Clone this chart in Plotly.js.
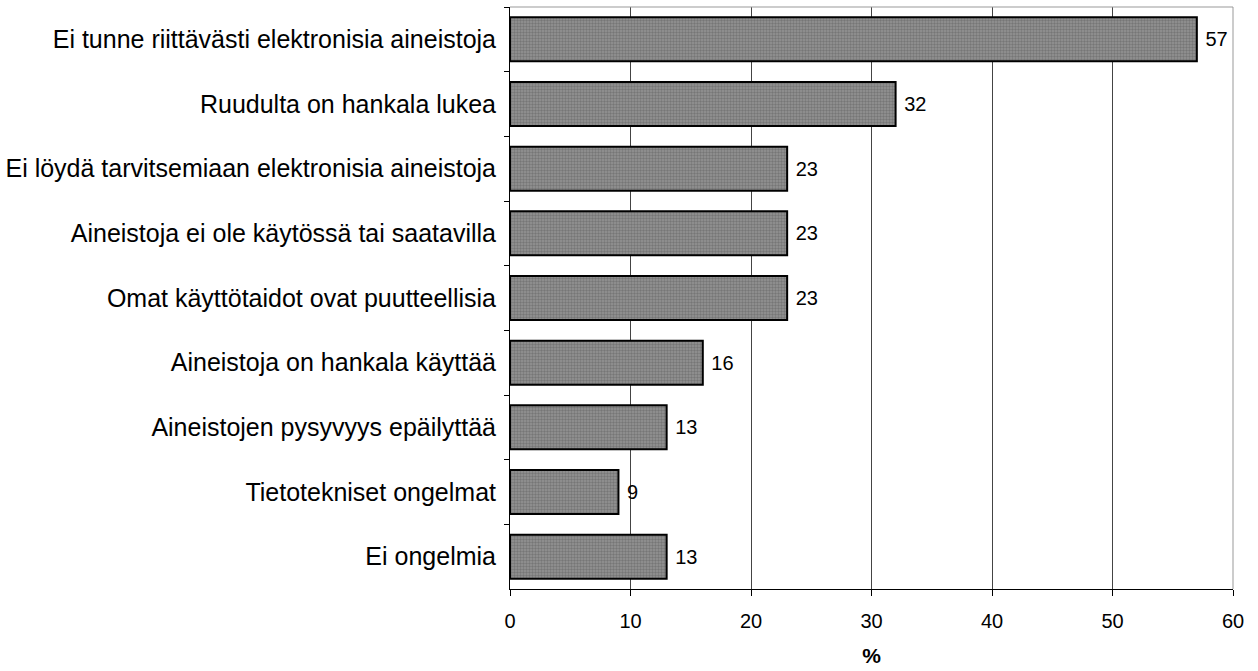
<!DOCTYPE html>
<html>
<head>
<meta charset="utf-8">
<script src="https://cdn.plot.ly/plotly-3.0.1.min.js"></script>
<style>html,body{margin:0;padding:0;background:#fff;}#chart{width:1258px;height:671px;}</style>
</head>
<body>
<div id="chart"></div>
<script>
const categories = [
  "Ei tunne riittävästi elektronisia aineistoja",
  "Ruudulta on hankala lukea",
  "Ei löydä tarvitsemiaan elektronisia aineistoja",
  "Aineistoja ei ole käytössä tai saatavilla",
  "Omat käyttötaidot ovat puutteellisia",
  "Aineistoja on hankala käyttää",
  "Aineistojen pysyvyys epäilyttää",
  "Tietotekniset ongelmat",
  "Ei ongelmia"
];
const values = [57, 32, 23, 23, 23, 16, 13, 9, 13];
const xTicks = [0, 10, 20, 30, 40, 50, 60];
const xTitle = "%";

const trace = {
  type: "bar",
  orientation: "h",
  y: categories,
  x: values,
  text: values.map(v => "\u00a0" + v),
  textposition: "outside",
  cliponaxis: false,
  textfont: {family: "Liberation Sans, Arial, sans-serif", size: 20, color: "#000"},
  marker: {
    color: "#888888",
    line: {color: "#000", width: 2},
    pattern: {shape: ".", fgcolor: "#767676", bgcolor: "#959595", size: 3, solidity: 0.5}
  },
  hoverinfo: "none"
};

const layout = {
  width: 1258,
  height: 671,
  margin: {l: 510, r: 25, t: 7, b: 82},
  paper_bgcolor: "#fff",
  plot_bgcolor: "#fff",
  showlegend: false,
  bargap: 0.32,
  font: {family: "Liberation Sans, Arial, sans-serif", size: 20, color: "#000"},
  xaxis: {
    range: [0, 60],
    tickvals: xTicks,
    ticktext: xTicks.map(String),
    showgrid: true,
    gridcolor: "#444",
    gridwidth: 1,
    zeroline: false,
    showline: true,
    linecolor: "#000",
    linewidth: 1,
    ticks: "outside",
    ticklen: 6,
    tickcolor: "#000",
    tickfont: {size: 20},
    ticklabelstandoff: 8,
    title: {text: "<b>" + xTitle + "</b>", font: {size: 21}, standoff: 17},
    mirror: false
  },
  yaxis: {
    autorange: "reversed",
    type: "category",
    showgrid: false,
    zeroline: false,
    showline: true,
    linecolor: "#000",
    linewidth: 1,
    ticks: "outside",
    tickson: "boundaries",
    ticklen: 5,
    tickcolor: "#000",
    tickfont: {size: 25},
    ticklabelstandoff: 8
  },
  shapes: [
    {type: "line", xref: "paper", yref: "paper", x0: 0, x1: 1, y0: 1, y1: 1, line: {color: "#999", width: 1}},
    {type: "line", xref: "paper", yref: "paper", x0: 1, x1: 1, y0: 0, y1: 1, line: {color: "#999", width: 1}}
  ]
};

Plotly.newPlot("chart", [trace], layout, {displayModeBar: false, staticPlot: true});
</script>
</body>
</html>
